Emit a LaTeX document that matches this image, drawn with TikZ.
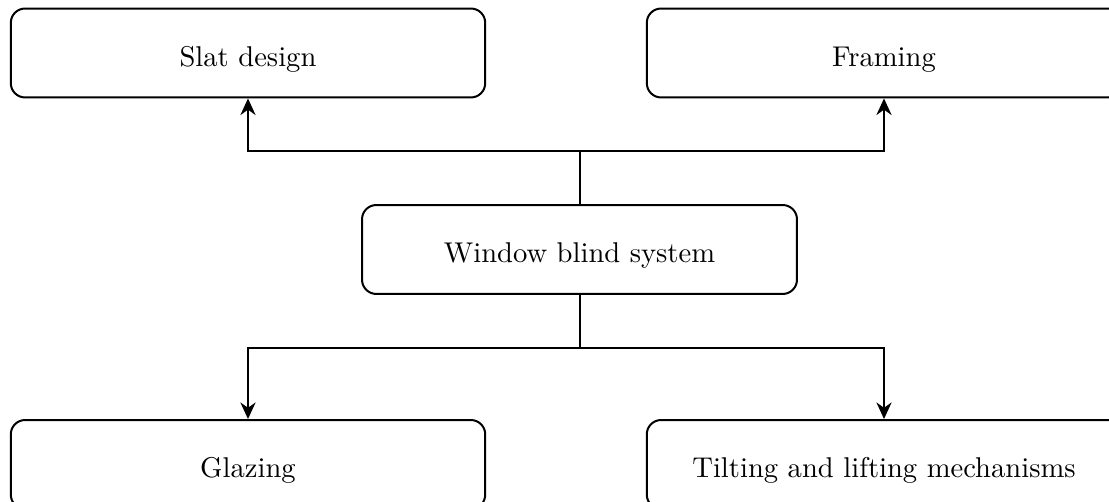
\documentclass[tikz,border=0pt]{standalone}
\usepackage{tikz}
\usetikzlibrary{arrows.meta}

\begin{document}
\begin{tikzpicture}[x=0.3497pt, y=-0.3497pt,
  blk/.style={draw, line width=0.7pt, rounded corners=5pt, minimum width=165.9pt, minimum height=31.1pt,
    text height=9.4pt, text depth=0pt},
  link/.style={line width=0.7pt, -{Stealth[length=5.8pt, width=5.3pt]}}]
  \useasboundingbox (0,0) rectangle (1109,502);
  \node[blk] (slat) at (248,53) {Slat design};
  \node[blk] (frame) at (884,53) {Framing};
  \node[blk, minimum width=152.1pt] (win) at (579.5,249.5) {Window blind system};
  \node[blk] (glaz) at (248,464.5) {Glazing};
  \node[blk] (tilt) at (884,464.5) {Tilting and lifting mechanisms};
  \draw[link] (win.north) -- ++(0,-53) -| (slat.south);
  \draw[link] (win.north) -- ++(0,-53) -| (frame.south);
  \draw[link] (win.south) -- ++(0,53) -| (glaz.north);
  \draw[link] (win.south) -- ++(0,53) -| (tilt.north);
\end{tikzpicture}
\end{document}
